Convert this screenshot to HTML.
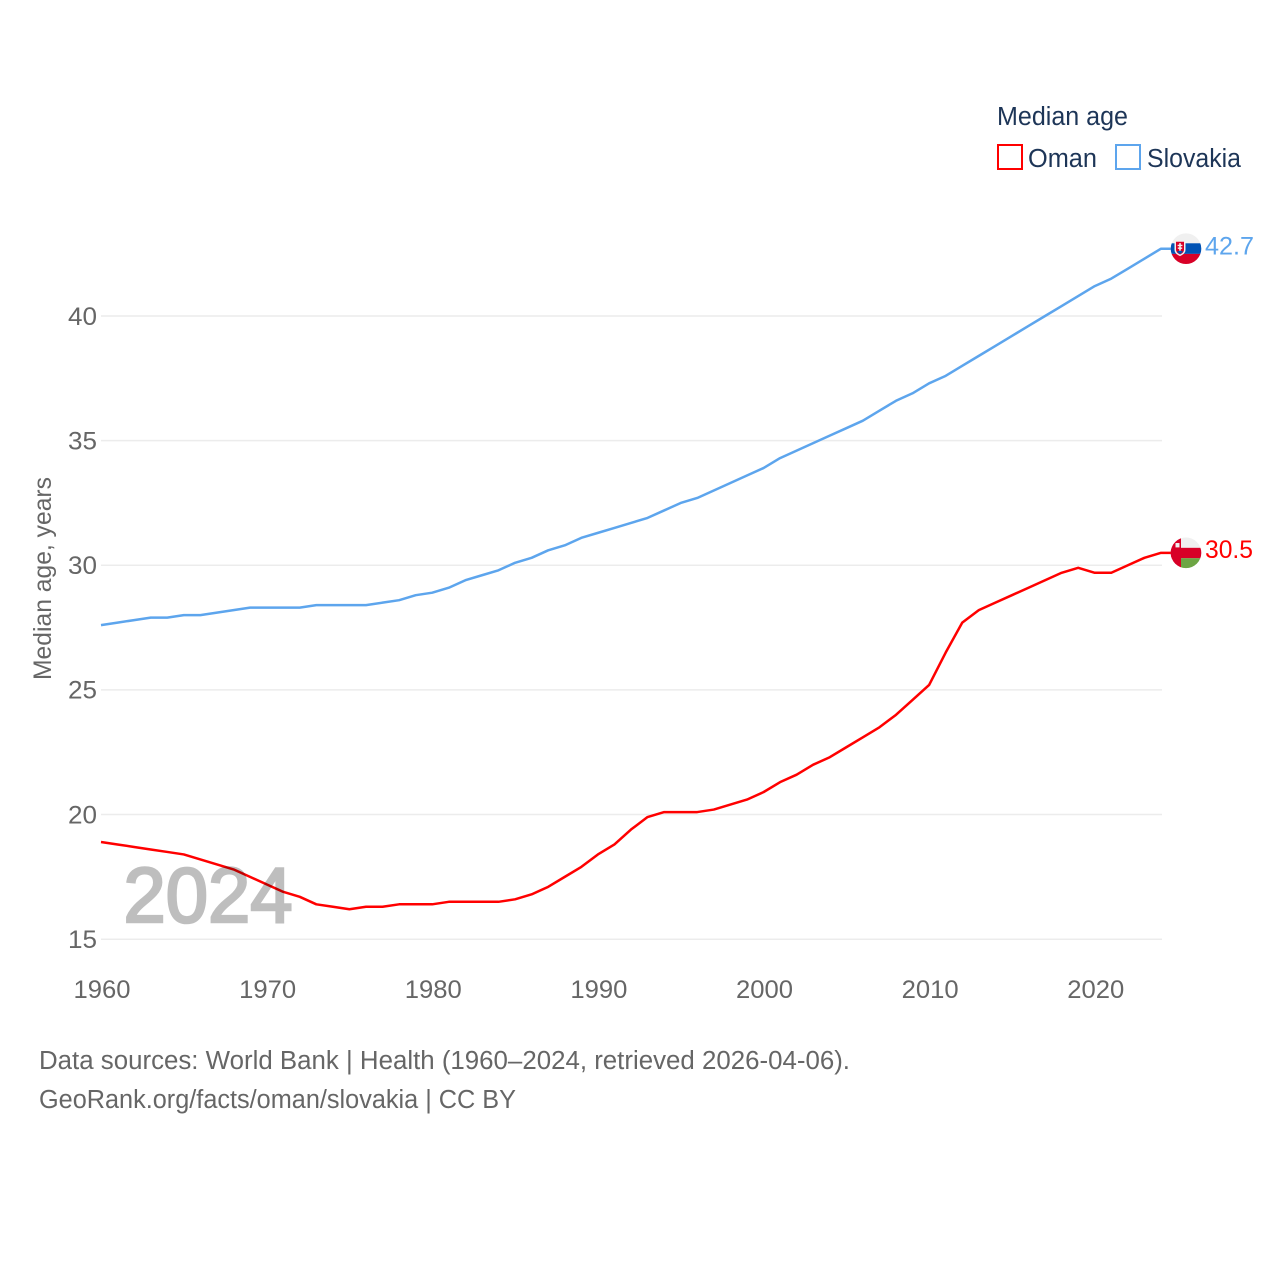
<!DOCTYPE html>
<html lang="en">
<head>
<meta charset="utf-8">
<title>Median age: Oman and Slovakia</title>
<style>
html,body{margin:0;padding:0;background:#fff;}
svg{display:block;}
text{font-family:"Liberation Sans",sans-serif;}
</style>
</head>
<body>
<svg id="chart" xmlns="http://www.w3.org/2000/svg" width="1280" height="1280" viewBox="0 0 1280 1280">
  <defs>
    <clipPath id="flag-clip"><circle cx="0" cy="0" r="15.3"/></clipPath>
  </defs>
  <rect x="0" y="0" width="1280" height="1280" fill="#ffffff"/>
  <g id="grid"></g>
  <g id="yticks"></g>
  <g id="xticks"></g>
  <text transform="translate(51,680) rotate(-90)" font-size="25" fill="#666666" textLength="203" lengthAdjust="spacingAndGlyphs">Median age, years</text>
  <g id="series"></g>
  <text x="123.5" y="921.8" font-size="78" font-weight="400" fill="#000000" stroke="#000000" stroke-width="2.6" opacity="0.25" textLength="169" lengthAdjust="spacingAndGlyphs">2024</text>
  <g id="flag-slovakia">
    <g clip-path="url(#flag-clip)">
      <rect x="-16" y="-16" width="32" height="32" fill="#f0f0f0"/>
      <rect x="-16" y="-5.4" width="32" height="10.6" fill="#0052b4"/>
      <rect x="-16" y="5.2" width="32" height="11" fill="#d80027"/>
      <path d="M-11.5,-8.5 H-0.5 V1 Q-0.5,5 -6,7.4 Q-11.5,5 -11.5,1 Z" fill="#f0f0f0"/>
      <path d="M-10,-7 H-2 V1 Q-2,4 -6,5.8 Q-10,4 -10,1 Z" fill="#d80027"/>
      <path d="M-6.8,-5.6 H-5.2 V-4 H-3.6 V-2.6 H-5.2 V-1.2 H-3.8 V0.2 H-5.2 V2 H-6.8 V0.2 H-8.2 V-1.2 H-6.8 V-2.6 H-8.4 V-4 H-6.8 Z" fill="#f0f0f0"/>
      <path d="M-9,3 Q-6,1 -3,3 L-6,5.4 Z" fill="#0052b4"/>
    </g>
  </g>
  <g id="flag-oman">
    <g clip-path="url(#flag-clip)">
      <rect x="-16" y="-16" width="32" height="32" fill="#f0f0f0"/>
      <rect x="-16" y="-5" width="32" height="10.4" fill="#d80027"/>
      <rect x="-16" y="-16" width="11" height="32" fill="#d80027"/>
      <rect x="-5" y="5.4" width="21" height="11" fill="#6da544"/>
      <rect x="-10.5" y="-9.8" width="4" height="4.4" fill="#f0f0f0"/>
    </g>
  </g>
  <g id="end-labels"></g>

  <text x="997" y="125" font-size="25.5" fill="#1d3557" textLength="131" lengthAdjust="spacingAndGlyphs">Median age</text>
  <g>
    <rect x="998" y="145" width="24" height="24" fill="none" stroke="#ff0000" stroke-width="2"/>
    <text x="1028" y="167" font-size="25.5" fill="#1d3557" textLength="69" lengthAdjust="spacingAndGlyphs">Oman</text>
  </g>
  <g>
    <rect x="1116" y="145" width="24" height="24" fill="none" stroke="#5da5ed" stroke-width="2"/>
    <text x="1147" y="167" font-size="25.5" fill="#1d3557" textLength="94" lengthAdjust="spacingAndGlyphs">Slovakia</text>
  </g>

  <text x="39" y="1069" font-size="25.5" fill="#666666" textLength="811" lengthAdjust="spacingAndGlyphs">Data sources: World Bank | Health (1960–2024, retrieved 2026-04-06).</text>
  <a>
    <text x="39" y="1108" font-size="25.5" fill="#666666" textLength="477" lengthAdjust="spacingAndGlyphs">GeoRank.org/facts/oman/slovakia | CC BY</text>
  </a>
</svg>
<script>
const years = [1960,1961,1962,1963,1964,1965,1966,1967,1968,1969,1970,1971,1972,1973,1974,1975,1976,1977,1978,1979,1980,1981,1982,1983,1984,1985,1986,1987,1988,1989,1990,1991,1992,1993,1994,1995,1996,1997,1998,1999,2000,2001,2002,2003,2004,2005,2006,2007,2008,2009,2010,2011,2012,2013,2014,2015,2016,2017,2018,2019,2020,2021,2022,2023,2024];
const omanValues = [18.9,18.8,18.7,18.6,18.5,18.4,18.2,18.0,17.8,17.5,17.2,16.9,16.7,16.4,16.3,16.2,16.3,16.3,16.4,16.4,16.4,16.5,16.5,16.5,16.5,16.6,16.8,17.1,17.5,17.9,18.4,18.8,19.4,19.9,20.1,20.1,20.1,20.2,20.4,20.6,20.9,21.3,21.6,22.0,22.3,22.7,23.1,23.5,24.0,24.6,25.2,26.5,27.7,28.2,28.5,28.8,29.1,29.4,29.7,29.9,29.7,29.7,30.0,30.3,30.5];
const slovakiaValues = [27.6,27.7,27.8,27.9,27.9,28.0,28.0,28.1,28.2,28.3,28.3,28.3,28.3,28.4,28.4,28.4,28.4,28.5,28.6,28.8,28.9,29.1,29.4,29.6,29.8,30.1,30.3,30.6,30.8,31.1,31.3,31.5,31.7,31.9,32.2,32.5,32.7,33.0,33.3,33.6,33.9,34.3,34.6,34.9,35.2,35.5,35.8,36.2,36.6,36.9,37.3,37.6,38.0,38.4,38.8,39.2,39.6,40.0,40.4,40.8,41.2,41.5,41.9,42.3,42.7];
const yTicks = [15,20,25,30,35,40];
const xTicks = [1960,1970,1980,1990,2000,2010,2020];

const SVG_NS = 'http://www.w3.org/2000/svg';
function xScale(year){ return 101 + (year - 1960) * (1161 - 101) / (2024 - 1960); }
function yScale(value){ return 939.2 - (value - 15) * (939.2 - 316) / (40 - 15); }
function make(tag, attrs, parent){
  const el = document.createElementNS(SVG_NS, tag);
  for (const k in attrs) el.setAttribute(k, attrs[k]);
  parent.appendChild(el);
  return el;
}
const gridG = document.getElementById('grid');
const yG = document.getElementById('yticks');
const xG = document.getElementById('xticks');
const seriesG = document.getElementById('series');
const labelG = document.getElementById('end-labels');

yTicks.forEach(function(t){
  const line = make('line', {x1:101, x2:1162, y1:yScale(t), y2:yScale(t), stroke:'#ececec', 'stroke-width':1.5}, gridG);
  
  
  const label = make('text', {x:97, y:yScale(t) + 8.8, 'text-anchor':'end', 'font-size':25, fill:'#666666', textLength:29, lengthAdjust:'spacingAndGlyphs'}, yG);
  label.textContent = String(t);
  
  
});
xTicks.forEach(function(t){
  const label = make('text', {x:xScale(t) + 1, y:998, 'text-anchor':'middle', 'font-size':25, fill:'#666666', textLength:57, lengthAdjust:'spacingAndGlyphs'}, xG);
  label.textContent = String(t);
  
  
});
function linePoints(values){
  return values.map(function(v, i){ return xScale(years[i]).toFixed(2) + ',' + yScale(v).toFixed(2); }).join(' ');
}
const endX = xScale(years[years.length - 1]);
const slovakiaLine = make('polyline', {points:linePoints(slovakiaValues) + ' ' + (endX + 10) + ',' + yScale(slovakiaValues[slovakiaValues.length - 1]).toFixed(2), fill:'none', stroke:'#5da5ed', 'stroke-width':2.5, 'stroke-linejoin':'round'}, seriesG);


const omanLine = make('polyline', {points:linePoints(omanValues) + ' ' + (endX + 10) + ',' + yScale(omanValues[omanValues.length - 1]).toFixed(2), fill:'none', stroke:'#ff0000', 'stroke-width':2.5, 'stroke-linejoin':'round'}, seriesG);



const lastSlovakia = slovakiaValues[slovakiaValues.length - 1];
const lastOman = omanValues[omanValues.length - 1];
document.getElementById('flag-slovakia').setAttribute('transform', 'translate(' + (endX + 25) + ',' + yScale(lastSlovakia) + ')');
document.getElementById('flag-oman').setAttribute('transform', 'translate(' + (endX + 25) + ',' + yScale(lastOman) + ')');

const slovakiaLabel = make('text', {x:endX + 44, y:yScale(lastSlovakia) + 6, 'font-size':25, fill:'#5da5ed', textLength:49, lengthAdjust:'spacingAndGlyphs'}, labelG);
slovakiaLabel.textContent = lastSlovakia.toFixed(1);


const omanLabel = make('text', {x:endX + 44, y:yScale(lastOman) + 5.2, 'font-size':25, fill:'#ff0000', textLength:48, lengthAdjust:'spacingAndGlyphs'}, labelG);
omanLabel.textContent = lastOman.toFixed(1);


</script>
</body>
</html>
